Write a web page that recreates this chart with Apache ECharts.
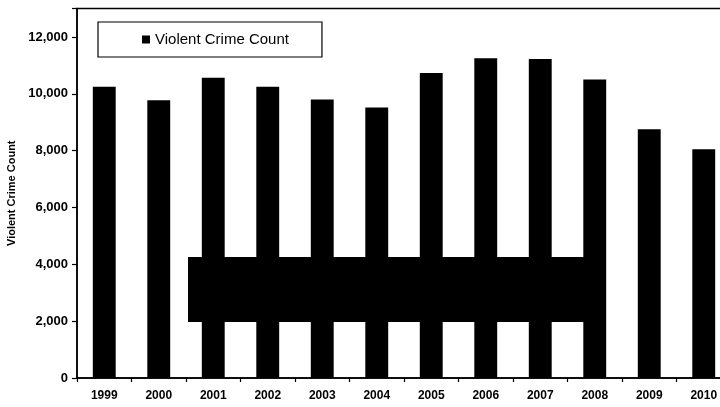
<!DOCTYPE html>
<html>
<head>
<meta charset="utf-8">
<script src="https://cdn.jsdelivr.net/npm/echarts@6/dist/echarts.min.js"></script>
<style>
  html, body { margin: 0; padding: 0; background: #fff; }
  #chart { width: 720px; height: 407px; }
</style>
</head>
<body>
<div id="chart"></div>
<script>
// data
var years = ['1999', '2000', '2001', '2002', '2003', '2004', '2005', '2006', '2007', '2008', '2009', '2010'];
var crimeCount = [10250, 9770, 10560, 10250, 9800, 9520, 10730, 11250, 11220, 10500, 8750, 8050];
var seriesName = 'Violent Crime Count';

var labelFont = '"Liberation Sans", Arial, sans-serif';

var myChart = echarts.init(document.getElementById('chart'));

var option = {
    animation: false,
    legend: {
        left: 98,
        top: 22,
        padding: [10, 33, 10, 44],
        itemWidth: 8,
        itemHeight: 8,
        itemGap: 4,
        borderColor: '#000',
        borderWidth: 1.2,
        icon: 'rect',
        textStyle: { color: '#000', fontSize: 15, fontFamily: labelFont },
        data: [seriesName]
    },
    // plot runs past the right edge of the scan
    grid: {
        left: 77,
        top: 8.5,
        width: 654,
        bottom: 29,
        outerBoundsMode: 'none',
        containLabel: false,
        show: true,
        borderColor: '#000',
        borderWidth: 1.5,
        backgroundColor: 'transparent'
    },
    xAxis: {
        type: 'category',
        data: years,
        axisLine: { lineStyle: { color: '#000', width: 1.5 } },
        axisTick: { show: true, length: 4, lineStyle: { color: '#000', width: 1.2 } },
        axisLabel: {
            color: '#000',
            fontSize: 12,
            fontWeight: 'bold',
            fontFamily: labelFont,
            margin: 12
        }
    },
    yAxis: {
        type: 'value',
        min: 0,
        max: 13000,
        interval: 2000,
        name: 'Violent Crime Count',
        nameLocation: 'middle',
        nameGap: 55,
        nameTextStyle: { color: '#000', fontSize: 11, fontWeight: 'bold', fontFamily: labelFont },
        axisLine: { show: true, lineStyle: { color: '#000', width: 1.5 } },
        axisTick: { show: true, length: 5, lineStyle: { color: '#000', width: 1.2 } },
        splitLine: { show: false },
        axisLabel: {
            color: '#000',
            fontSize: 13,
            fontWeight: 'bold',
            fontFamily: labelFont,
            margin: 9,
            formatter: function (v) {
                return v > 12000 ? '' : v.toLocaleString('en-US');
            }
        }
    },
    series: [
        {
            name: seriesName,
            type: 'bar',
            data: crimeCount,
            barWidth: '42%',
            itemStyle: { color: '#000' }
        }
    ],
    // redaction block pasted over the scanned chart
    graphic: [
        {
            type: 'rect',
            z: 100,
            shape: { x: 188, y: 257, width: 417, height: 65 },
            style: { fill: '#000' }
        }
    ]
};

myChart.setOption(option);
window.onresize = myChart.resize;
</script>
</body>
</html>
